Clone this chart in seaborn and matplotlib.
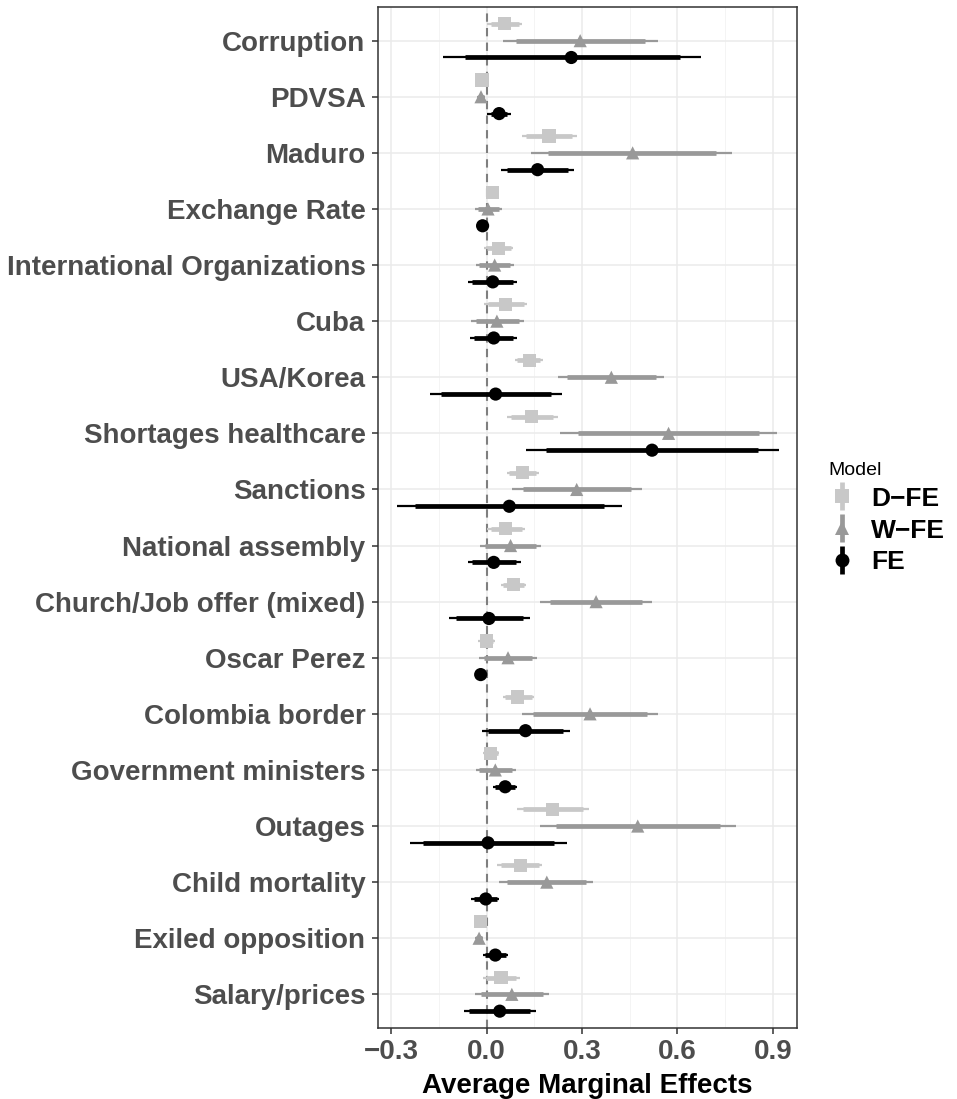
import numpy as np
import pandas as pd
import seaborn as sns
import matplotlib
matplotlib.use("Agg")
import matplotlib.pyplot as plt
from matplotlib.lines import Line2D
from matplotlib.legend_handler import HandlerTuple

categories = ["Corruption", "PDVSA", "Maduro", "Exchange Rate", "International Organizations",
              "Cuba", "USA/Korea", "Shortages healthcare", "Sanctions", "National assembly",
              "Church/Job offer (mixed)", "Oscar Perez", "Colombia border", "Government ministers",
              "Outages", "Child mortality", "Exiled opposition", "Salary/prices"]
models = ["D\u2212FE", "W\u2212FE", "FE"]

dfe_est  = [0.055, -0.015, 0.196, 0.018, 0.038, 0.059, 0.134, 0.142, 0.113, 0.060, 0.084, 0.000, 0.098, 0.013, 0.207, 0.105, -0.020, 0.045]
dfe_lo95 = [0.002, -0.025, 0.110, 0.008, -0.008, -0.008, 0.089, 0.063, 0.063, 0.002, 0.045, -0.026, 0.050, -0.013, 0.096, 0.033, -0.030, -0.011]
dfe_hi95 = [0.111, -0.005, 0.283, 0.028, 0.082, 0.128, 0.176, 0.223, 0.163, 0.120, 0.122, 0.026, 0.149, 0.040, 0.321, 0.175, -0.010, 0.104]
dfe_lo90 = [0.012, -0.023, 0.125, 0.010, 0.000, 0.004, 0.096, 0.076, 0.071, 0.012, 0.051, -0.021, 0.058, -0.008, 0.114, 0.044, -0.028, -0.001]
dfe_hi90 = [0.100, -0.007, 0.268, 0.026, 0.075, 0.116, 0.169, 0.209, 0.155, 0.110, 0.116, 0.021, 0.141, 0.035, 0.302, 0.164, -0.012, 0.093]

wfe_est  = [0.294, -0.018, 0.459, 0.004, 0.025, 0.032, 0.392, 0.572, 0.283, 0.075, 0.344, 0.067, 0.325, 0.027, 0.475, 0.189, -0.024, 0.079]
wfe_lo95 = [0.052, -0.030, 0.140, -0.037, -0.034, -0.049, 0.225, 0.230, 0.080, -0.021, 0.168, -0.024, 0.110, -0.034, 0.168, 0.040, -0.036, -0.037]
wfe_hi95 = [0.538, -0.006, 0.773, 0.049, 0.086, 0.117, 0.559, 0.912, 0.487, 0.171, 0.519, 0.157, 0.540, 0.091, 0.784, 0.335, -0.012, 0.196]
wfe_lo90 = [0.092, -0.028, 0.194, -0.027, -0.024, -0.035, 0.254, 0.288, 0.113, -0.005, 0.199, -0.009, 0.147, -0.024, 0.218, 0.063, -0.034, -0.019]
wfe_hi90 = [0.499, -0.008, 0.720, 0.039, 0.074, 0.103, 0.531, 0.855, 0.454, 0.155, 0.490, 0.143, 0.505, 0.079, 0.734, 0.312, -0.014, 0.177]

fe_est  = [0.266, 0.039, 0.160, -0.013, 0.019, 0.022, 0.028, 0.520, 0.071, 0.022, 0.007, -0.019, 0.122, 0.058, 0.004, -0.003, 0.027, 0.041]
fe_lo95 = [-0.137, 0.002, 0.045, -0.022, -0.058, -0.052, -0.180, 0.124, -0.281, -0.060, -0.119, -0.028, -0.015, 0.021, -0.241, -0.049, -0.013, -0.073]
fe_hi95 = [0.673, 0.075, 0.275, -0.004, 0.094, 0.096, 0.237, 0.918, 0.425, 0.107, 0.136, -0.010, 0.262, 0.096, 0.252, 0.040, 0.068, 0.154]
fe_lo90 = [-0.068, 0.012, 0.063, -0.020, -0.045, -0.040, -0.145, 0.186, -0.225, -0.045, -0.097, -0.026, 0.005, 0.027, -0.201, -0.040, -0.006, -0.055]
fe_hi90 = [0.608, 0.065, 0.257, -0.006, 0.082, 0.084, 0.202, 0.852, 0.369, 0.092, 0.113, -0.012, 0.239, 0.089, 0.212, 0.032, 0.061, 0.135]

x_ticks = [-0.3, 0.0, 0.3, 0.6, 0.9]
x_tick_labels = ["\u22120.3", "0.0", "0.3", "0.6", "0.9"]

# ---- build long table ----
frames = []
for m, est, lo95, hi95, lo90, hi90 in [
    (models[0], dfe_est, dfe_lo95, dfe_hi95, dfe_lo90, dfe_hi90),
    (models[1], wfe_est, wfe_lo95, wfe_hi95, wfe_lo90, wfe_hi90),
    (models[2], fe_est, fe_lo95, fe_hi95, fe_lo90, fe_hi90)]:
    frames.append(pd.DataFrame({"category": categories, "Model": m, "est": est,
                                "lo95": lo95, "hi95": hi95, "lo90": lo90, "hi90": hi90}))
df = pd.concat(frames, ignore_index=True)
dodge = {models[0]: -0.30, models[1]: 0.0, models[2]: 0.30}
cat_idx = {c: i for i, c in enumerate(categories)}
df["ypos"] = df["category"].map(cat_idx) + df["Model"].map(dodge)

palette = {models[0]: "#c8c8c8", models[1]: "#999999", models[2]: "#000000"}
markers = {models[0]: "s", models[1]: "^", models[2]: "o"}

sns.set_theme(style="white")
plt.rcParams["font.family"] = ["Liberation Sans", "DejaVu Sans"]

fig = plt.figure(figsize=(9.57, 10.99), dpi=100)
ax = fig.add_axes([378 / 957, 1 - 1028 / 1099, (797 - 378) / 957, (1028 - 7) / 1099])

# grid
for xv in x_ticks:
    ax.axvline(xv, color="#ebebeb", lw=1.1, zorder=0)
for xv in [-0.15, 0.15, 0.45, 0.75]:
    ax.axvline(xv, color="#f2f2f2", lw=0.6, zorder=0)
for i in range(len(categories)):
    ax.axhline(i, color="#ebebeb", lw=1.1, zorder=0)

ax.axvline(0, color="#7f7f7f", lw=1.5, ls=(0, (4, 3)), zorder=1)

for m in models:
    sub = df[df["Model"] == m]
    ax.hlines(sub["ypos"], sub["lo95"], sub["hi95"], color=palette[m], lw=1.6, zorder=2)
    ax.hlines(sub["ypos"], sub["lo90"], sub["hi90"], color=palette[m], lw=3.4, zorder=2)

sns.scatterplot(data=df, x="est", y="ypos", hue="Model", style="Model",
                palette=palette, markers=markers, hue_order=models, style_order=models,
                s=90, edgecolor="none", linewidth=0, legend=False, ax=ax, zorder=3)

ax.set_xlim(-0.342, 0.976)
ax.set_ylim(len(categories) - 0.4, -0.6)
ax.set_yticks(range(len(categories)))
ax.set_yticklabels(categories)
ax.set_xticks(x_ticks)
ax.set_xticklabels(x_tick_labels)
ax.tick_params(axis="both", which="major", length=4, width=1.1, color="#333333",
               labelsize=20, labelcolor="#4d4d4d", left=True, bottom=True)
ax.tick_params(axis="y", pad=5)
ax.tick_params(axis="x", pad=4)
for lab in ax.get_xticklabels() + ax.get_yticklabels():
    lab.set_fontweight("bold")
ax.set_xlabel("Average Marginal Effects", fontsize=20, fontweight="bold", color="black", labelpad=6)
ax.set_ylabel("")
for sp in ax.spines.values():
    sp.set_color("#333333")
    sp.set_linewidth(1.1)
ax.grid(False)

# legend
handles = []
for m in models:
    vline = Line2D([], [], color=palette[m], marker="|", markersize=20, markeredgewidth=3.4, linestyle="none")
    pt = Line2D([], [], color=palette[m], marker=markers[m], markersize=10, markeredgewidth=0, linestyle="none")
    handles.append((vline, pt))
leg = fig.legend(handles, models, handler_map={tuple: HandlerTuple(ndivide=1)},
                 title="Model", loc="upper left", bbox_to_anchor=(805 / 957, 1 - 438 / 1099),
                 frameon=False, prop={"size": 19, "weight": "bold"}, title_fontsize=14,
                 handlelength=1.0, handletextpad=0.6, labelspacing=0.3, alignment="left")
for t in leg.get_texts():
    t.set_color("black")
leg.get_title().set_color("black")

fig.savefig("out.png", dpi=100)
